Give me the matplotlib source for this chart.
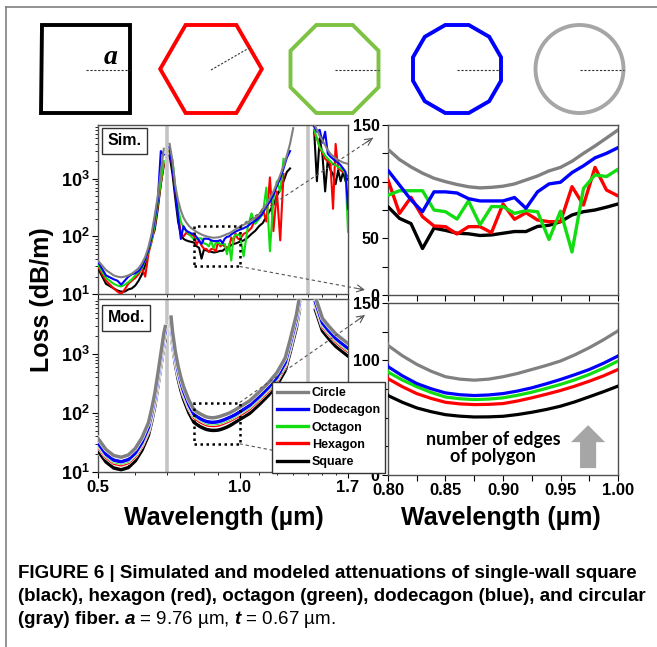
import numpy as np
import matplotlib.pyplot as plt
from matplotlib.patches import Polygon, Ellipse, Rectangle, FancyArrow
from matplotlib.lines import Line2D
from matplotlib.ticker import FixedLocator, FixedFormatter, NullFormatter, LogLocator, FormatStrFormatter
import matplotlib.patheffects as pe

plt.rcParams['font.family'] = ['Liberation Sans', 'DejaVu Sans']
plt.rcParams['font.weight'] = 'bold'
plt.rcParams['mathtext.fontset'] = 'custom'
plt.rcParams['mathtext.rm'] = 'Liberation Sans'
plt.rcParams['mathtext.it'] = 'Liberation Sans:italic'
plt.rcParams['mathtext.bf'] = 'Liberation Sans:bold'

nan = np.nan

# fibre cross sections, legend order
shapes = ['Circle', 'Dodecagon', 'Octagon', 'Hexagon', 'Square']
line_colors = ['#808080', '#0000ff', '#11dd11', '#ff0000', '#000000']

# ---- modeled loss (dB/m) ----
wl_mod = [0.50, 0.52, 0.54, 0.56, 0.58, 0.60, 0.62, 0.64, 0.65, 0.66, 0.67, 0.68, 0.69, 0.695,
          0.705,
          0.715, 0.72, 0.73, 0.74, 0.75, 0.76, 0.78,
          0.80, 0.8125, 0.825, 0.8375, 0.85, 0.8625, 0.875, 0.8875, 0.90,
          0.9125, 0.925, 0.9375, 0.95, 0.9625, 0.975, 0.9875, 1.00,
          1.05, 1.10, 1.15, 1.20, 1.25, 1.28, 1.30, 1.32, 1.34,
          1.41,
          1.45, 1.47, 1.50, 1.55, 1.60, 1.65, 1.70]
mod_circle = [37, 24, 19, 17.8, 19.4, 25, 38, 68, 115, 210, 450, 1000, 2200, 2900,
              nan,
              4200, 2400, 1100, 620, 400, 280, 165,
              113, 104, 96.5, 90.5, 85.7, 83.6, 82.7, 83.6, 85.7,
              88.5, 92, 95.5, 99.4, 104.8, 111, 118, 125.7,
              160, 225, 320, 480, 850, 1700, 2800, 4500, 9000,
              nan,
              9000, 6500, 4000, 2900, 2200, 1800, 1500]
mod_dodecagon = [31, 20, 15.9, 14.9, 16.2, 20.9, 31.7, 57, 96, 175, 375, 835, 1840, 2420,
                 nan,
                 3510, 2000, 920, 518, 334, 234, 138,
                 94.5, 86.5, 79.8, 75.2, 71.6, 70, 69.3, 69.8, 71,
                 73.2, 76, 79.5, 83.3, 87.5, 92, 97.5, 103.8,
                 134, 188, 267, 400, 710, 1420, 2340, 3760, 7520,
                 nan,
                 7520, 5430, 3340, 2420, 1840, 1500, 1250]
mod_octagon = [29.4, 19.1, 15.1, 14.2, 15.4, 19.9, 30.2, 54, 91, 167, 358, 795, 1750, 2300,
               nan,
               3340, 1910, 875, 493, 318, 223, 131,
               89.8, 82.8, 77, 72, 68, 66.5, 65.8, 66.2, 67.3,
               69.5, 72.2, 75.5, 79, 83, 87.7, 93.2, 99.4,
               127, 179, 254, 382, 676, 1350, 2230, 3580, 7150,
               nan,
               7150, 5170, 3180, 2300, 1750, 1430, 1190]
mod_hexagon = [27.4, 17.8, 14.1, 13.2, 14.4, 18.5, 28.1, 50, 85, 155, 333, 740, 1630, 2150,
               nan,
               3110, 1780, 814, 459, 296, 207, 122,
               84, 77, 71, 66.8, 63.4, 62, 61.4, 61.6, 62.3,
               64.5, 67.3, 70.4, 73.7, 77.5, 81.8, 86.5, 92,
               118, 167, 237, 355, 629, 1260, 2070, 3330, 6660,
               nan,
               6660, 4810, 2960, 2150, 1630, 1330, 1110]
mod_square = [22.8, 14.8, 11.7, 10.9, 11.9, 15.4, 23.4, 42, 71, 129, 277, 615, 1350, 1780,
              nan,
              2580, 1480, 677, 381, 246, 172, 101,
              69.3, 63.4, 58.5, 55.2, 52.6, 51.3, 50.6, 50.7, 51.2,
              52.7, 54.7, 57.1, 60, 63.8, 68.2, 72.7, 77.5,
              98, 138, 197, 295, 523, 1050, 1720, 2770, 5540,
              nan,
              5540, 4000, 2460, 1780, 1350, 1110, 920]

# ---- simulated loss (dB/m) ----
wl_sim = [0.50, 0.52, 0.54, 0.55, 0.56, 0.57, 0.58, 0.59, 0.60, 0.61, 0.62, 0.63, 0.64, 0.65, 0.66, 0.67, 0.68, 0.69,
          0.70,
          0.71, 0.72, 0.73, 0.74, 0.75, 0.76, 0.77, 0.78, 0.79,
          0.80, 0.81, 0.82, 0.83, 0.84, 0.85, 0.86, 0.87, 0.88, 0.89, 0.90,
          0.91, 0.92, 0.93, 0.94, 0.95, 0.96, 0.97, 0.98, 0.99, 1.00,
          1.02, 1.04, 1.06, 1.08, 1.10, 1.12, 1.14, 1.16, 1.18, 1.20, 1.22, 1.24, 1.26, 1.28, 1.30,
          1.40,
          1.44, 1.46, 1.48, 1.50, 1.52, 1.54, 1.56, 1.58, 1.60, 1.62, 1.64, 1.66, 1.68, 1.70]
sim_circle = [38, 26, 21, 20, 19.5, 20, 21, 22.5, 25, 28, 34, 44, 65, 110, 230, 500, 1300, 3300,
              nan,
              4000, 2000, 750, 420, 280, 210, 175, 152, 138,
              128.5, 119.5, 113, 107.5, 103, 100, 97.5, 95.5, 94.5, 95, 96,
              98, 101.5, 105, 109.5, 112.6, 118, 125, 131.5, 138.5, 145.6,
              158, 172, 190, 212, 240, 290, 360, 460, 600, 820, 1150, 1650, 2500, 4000, 7500,
              nan,
              9000, 7000, 5500, 4600, 3800, 3100, 2700, 2450, 2250, 2100, 2000, 1900, 1850, 1800]
sim_dodecagon = [36, 21, 18, 17, 14.5, 17, 20, 22, 23, 25, 30, 40, 58, 95, 200, 420, 3000, 2600,
                 nan,
                 3500, 1500, 600, 220, 90, 150, 125, 118, 112,
                 110, 97, 84, 73.5, 91, 91, 90, 85, 83, 83, 83,
                 86, 76.5, 91, 98, 99.5, 108, 114, 121, 125, 130,
                 138, 150, 170, 185, 210, 250, 330, 400, 520, 750, 1000, 1500, 2300, 3000, nan,
                 nan,
                 8000, 6500, 7000, 4200, 6500, 2700, 2400, 2200, 2000, 1900, 1700, 1500, 1300, 300]
sim_octagon = [32, 19, 15, 14, 13.5, 14.5, 16, 18, 21, 24, 28, 38, 55, 85, 160, 380, 900, 2000,
               nan,
               3000, 2100, 700, 300, 180, 140, 125, 110, 98,
               88, 92, 92, 92, 75, 73.5, 67, 83, 62, 78, 78,
               72, 74.5, 73.5, 49, 74, 38, 94, 106, 104.5, 111,
               45, 140, 250, 165, 200, 240, 700, 55, 450, 900, 600, 2200, nan, nan, nan,
               nan,
               7000, 5000, 3500, 3000, 2500, 2200, 2000, 1800, 1700, 1600, 1500, 1400, 1200, 120]
sim_hexagon = [30, 17, 12.5, 11, 10, 12, 15, 17, 19, 22, 28, 20, 50, 80, 150, 350, 850, 1800,
               nan,
               3000, 1600, 600, 250, 110, 100, 115, 108, 105,
               101.5, 72, 86.2, 69.1, 60.9, 60.3, 53.8, 60.3, 60.3, 55, 80.3,
               66.8, 72.6, 66.2, 64.7, 64.7, 95.6, 79.4, 112.6, 92.6, 87.4,
               110, 120, 140, 200, 230, 300, 180, 1050, 123, 600, 85, 1200, nan, nan, nan,
               nan,
               6000, 5000, 3500, 2800, 2200, 2000, 1800, 300, 4000, 1500, 1400, 1300, 1200, 1100]
sim_square = [28, 15, 12.5, 11.5, 11, 11, 12, 12.5, 14, 17, 22, 32, 55, 90, 130, 300, 800, 1700,
              nan,
              2500, 1200, 450, 180, 110, 90, 85, 82, 80,
              77.9, 67.6, 63, 41, 59, 57, 54.5, 54, 52.5, 53, 54.5,
              56, 56, 60.5, 61.5, 64.7, 70.6, 73.5, 75, 77.5, 80.3,
              85, 95, 110, 125, 150, 170, 220, 280, 350, 500, 650, 900, 1300, 1500, nan,
              nan,
              7000, 900, 5000, 2600, 600, 2200, 1400, 1200, 800, 1400, 900, 1300, 900, 1000]

mod = dict(zip(shapes, [mod_circle, mod_dodecagon, mod_octagon, mod_hexagon, mod_square]))
sim = dict(zip(shapes, [sim_circle, sim_dodecagon, sim_octagon, sim_hexagon, sim_square]))

resonances = [0.70, 1.40]
box_wl = (0.80, 1.00)
box_loss = (30, 150)

W, H = 657, 647
fig = plt.figure(figsize=(W / 100, H / 100), dpi=100)


def px_axes(x0, y0, x1, y1):
    return fig.add_axes([x0 / W, 1 - y1 / H, (x1 - x0) / W, (y1 - y0) / H])


def draw_curves(ax, wl, series, lw, outline=False):
    # square first so the circle curve ends up on top
    for name, col in reversed(list(zip(shapes, line_colors))):
        ln, = ax.plot(wl, series[name], color=col, lw=lw, solid_joinstyle='round', zorder=3)
        if outline:
            ln.set_path_effects([pe.Stroke(linewidth=lw + 0.8, foreground='white'), pe.Normal()])


def style_spines(ax):
    for s in ax.spines.values():
        s.set_color('#505050')
        s.set_linewidth(1.0)


def setup_left(ax, show_x):
    ax.set_xscale('log')
    ax.set_yscale('log')
    ax.set_xlim(0.5, 1.7)
    ax.set_ylim(10, 8500)
    ax.xaxis.set_major_locator(FixedLocator([0.5, 1.0, 1.7]))
    ax.xaxis.set_minor_locator(FixedLocator([0.6, 0.7, 0.8, 0.9, 1.1, 1.2, 1.3, 1.4, 1.5, 1.6]))
    ax.xaxis.set_minor_formatter(NullFormatter())
    if show_x:
        ax.xaxis.set_major_formatter(FixedFormatter(['0.5', '1.0', '1.7']))
    else:
        ax.xaxis.set_major_formatter(NullFormatter())
    ax.yaxis.set_major_locator(LogLocator(base=10))
    ax.yaxis.set_minor_locator(LogLocator(base=10, subs=np.arange(2, 10)))
    ax.yaxis.set_minor_formatter(NullFormatter())
    ax.tick_params(axis='both', which='major', direction='out', length=4, width=0.8, pad=2)
    ax.tick_params(axis='both', which='minor', direction='out', length=2.5, width=0.6)
    ax.tick_params(axis='y', labelsize=13)
    ax.tick_params(axis='x', labelsize=12)
    for r in resonances:
        ax.axvline(r, color='#c4c4c4', lw=2.6, zorder=1)
    ax.add_patch(Rectangle((box_wl[0], box_loss[0]), box_wl[1] - box_wl[0], box_loss[1] - box_loss[0],
                           fill=False, ec='black', lw=1.8, ls=(0, (1, 1.4)), zorder=6))
    style_spines(ax)


def setup_right(ax, show_x):
    ax.set_xlim(0.8, 1.0)
    ax.set_ylim(0, 150)
    ax.xaxis.set_major_locator(FixedLocator([0.80, 0.85, 0.90, 0.95, 1.00]))
    ax.xaxis.set_minor_locator(FixedLocator([0.825, 0.875, 0.925, 0.975]))
    ax.xaxis.set_major_formatter(FormatStrFormatter('%.2f') if show_x else NullFormatter())
    ax.yaxis.set_major_locator(FixedLocator([0, 50, 100, 150]))
    ax.yaxis.set_minor_locator(FixedLocator([25, 75, 125]))
    ax.yaxis.set_major_formatter(FormatStrFormatter('%d'))
    ax.tick_params(axis='both', which='both', direction='out', length=4, width=0.8, pad=2)
    ax.tick_params(axis='y', labelsize=11.5)
    ax.tick_params(axis='x', labelsize=12)
    style_spines(ax)


ax_tl = px_axes(98, 125, 348, 294)
ax_bl = px_axes(98, 299, 348, 472)
ax_tr = px_axes(388, 125, 618, 295)
ax_br = px_axes(388, 303, 618, 475)

setup_left(ax_tl, False)
setup_left(ax_bl, True)
setup_right(ax_tr, False)
setup_right(ax_br, True)

draw_curves(ax_tl, wl_sim, sim, 1.5)
draw_curves(ax_bl, wl_mod, mod, 2.5, outline=True)
draw_curves(ax_tr, wl_sim, sim, 2.4)
draw_curves(ax_br, wl_mod, mod, 2.3)

box_kw = dict(boxstyle='square,pad=0.35', fc='white', ec='#333333', lw=1.0)
ax_tl.text(0.038, 0.95, 'Sim.', transform=ax_tl.transAxes, ha='left', va='top', fontsize=11.5,
           bbox=box_kw, zorder=7)
ax_bl.text(0.038, 0.935, 'Mod.', transform=ax_bl.transAxes, ha='left', va='top', fontsize=11.5,
           bbox=box_kw, zorder=7)

# trend arrow and note in the zoomed model panel
ax_br.add_patch(FancyArrow(0.87, 0.04, 0, 0.25, width=0.07, head_width=0.148, head_length=0.099,
                           length_includes_head=True, transform=ax_br.transAxes,
                           color='#a6a6a6', ec='none', zorder=4))
ax_br.text(0.457, 0.157, 'number of edges\nof polygon', transform=ax_br.transAxes, ha='center',
           va='center', fontsize=13, family=['Lato', 'DejaVu Sans'], fontweight='bold',
           linespacing=1.05, zorder=5)

# overlay in pixel units for sketches, connectors, legend and captions
ax_bg = fig.add_axes([0, 0, 1, 1], zorder=10)
ax_bg.set_xlim(0, W)
ax_bg.set_ylim(H, 0)
ax_bg.axis('off')
ax_bg.patch.set_visible(False)

# page frame
ax_bg.plot([6, W], [7, 7], color='#7f7f7f', lw=1.2)
ax_bg.plot([6, 6], [7, H], color='#7f7f7f', lw=1.2)

# cross-section sketches
sketch_cx = [85.5, 211, 334.5, 457, 579.5]
sketch_cy = 69
apothem = 44
sketch_sides = [4, 6, 8, 12, None]
sketch_colors = ['#000000', '#ff0000', '#7dc242', '#0000ff', '#a6a6a6']
for cx, n, col in zip(sketch_cx, sketch_sides, sketch_colors):
    if n is None:
        ax_bg.add_patch(Ellipse((cx, sketch_cy), 2 * apothem, 2 * apothem, fill=False, ec=col, lw=2.8))
        tip = (cx + apothem, sketch_cy)
    else:
        R = apothem / np.cos(np.pi / n)
        th = np.deg2rad(90 - 180 / n) + np.arange(n) * 2 * np.pi / n
        verts = np.column_stack([cx + R * np.cos(th), sketch_cy - R * np.sin(th)])
        ax_bg.add_patch(Polygon(verts, closed=True, fill=False, ec=col, lw=2.8, joinstyle='miter'))
        if n == 6:
            tip = (cx + apothem * np.cos(np.pi / 6), sketch_cy - apothem * np.sin(np.pi / 6))
        else:
            tip = (cx + apothem, sketch_cy)
    ax_bg.plot([cx, tip[0]], [sketch_cy + 1, tip[1] + 1], color='#333333', lw=0.8, ls=(0, (2, 1.5)))
ax_bg.text(111, 58, 'a', family='Liberation Serif', style='italic', fontweight='bold', fontsize=20,
           ha='center', va='center')


def to_px(ax, pt, frac=False):
    tr = ax.transAxes if frac else ax.transData
    x, y = tr.transform(pt)
    return x, H - y


connectors = [
    (to_px(ax_tl, (box_wl[1], box_loss[1])), to_px(ax_tr, (-0.065, 0.924), True)),
    (to_px(ax_tl, (box_wl[1], box_loss[0])), to_px(ax_tr, (-0.10, 0.03), True)),
    (to_px(ax_bl, (box_wl[1], box_loss[1])), to_px(ax_br, (-0.10, 0.93), True)),
    (to_px(ax_bl, (box_wl[1], box_loss[0])), to_px(ax_br, (-0.013, 0.017), True)),
]
for (x0, y0), (x1, y1) in connectors:
    ax_bg.plot([x0, x1], [y0, y1], color='#555555', lw=0.8, ls=(0, (3, 2.5)))
    ax_bg.annotate('', xy=(x1, y1), xytext=(x1 - 0.06 * (x1 - x0), y1 - 0.06 * (y1 - y0)),
                   arrowprops=dict(arrowstyle='->,head_length=0.5,head_width=0.25', color='#555555',
                                   lw=0.8, shrinkA=0, shrinkB=0))

handles = [Line2D([], [], color=c, lw=2.4) for c in line_colors]
leg = ax_bg.legend(handles, shapes, loc='lower left', bbox_to_anchor=(272, 473),
                   bbox_transform=ax_bg.transData, borderaxespad=0, fancybox=False,
                   edgecolor='#333333', framealpha=1, fontsize=9, handlelength=2.5,
                   handletextpad=0.3, labelspacing=0.42, borderpad=0.4)
leg.get_frame().set_linewidth(1.0)

# axis titles
ax_bg.text(42, 300, 'Loss (dB/m)', rotation=90, ha='center', va='center', fontsize=18)
ax_bg.text(224, 518, 'Wavelength (µm)', ha='center', va='center', fontsize=18)
ax_bg.text(501, 518, 'Wavelength (µm)', ha='center', va='center', fontsize=18)

# caption, sized so the first line spans the text block width
renderer = fig.canvas.get_renderer()
cap_lines = ['FIGURE 6 | Simulated and modeled attenuations of single-wall square',
             '(black), hexagon (red), octagon (green), dodecagon (blue), and circular',
             '(gray) fiber.']
cap_y = [578, 601, 624]
cap_texts = [ax_bg.text(18, y, s, fontsize=14, va='baseline') for s, y in zip(cap_lines, cap_y)]
cap_size = 14 * 620 / cap_texts[0].get_window_extent(renderer).width
for t in cap_texts:
    t.set_fontsize(cap_size)
bb = cap_texts[2].get_window_extent(renderer)
ax_bg.text(bb.x1 + 4, cap_y[2], '$a$ = 9.76 µm, $t$ = 0.67 µm.', fontsize=cap_size,
           fontweight='normal', va='baseline')

fig.savefig('out.png', dpi=100)
